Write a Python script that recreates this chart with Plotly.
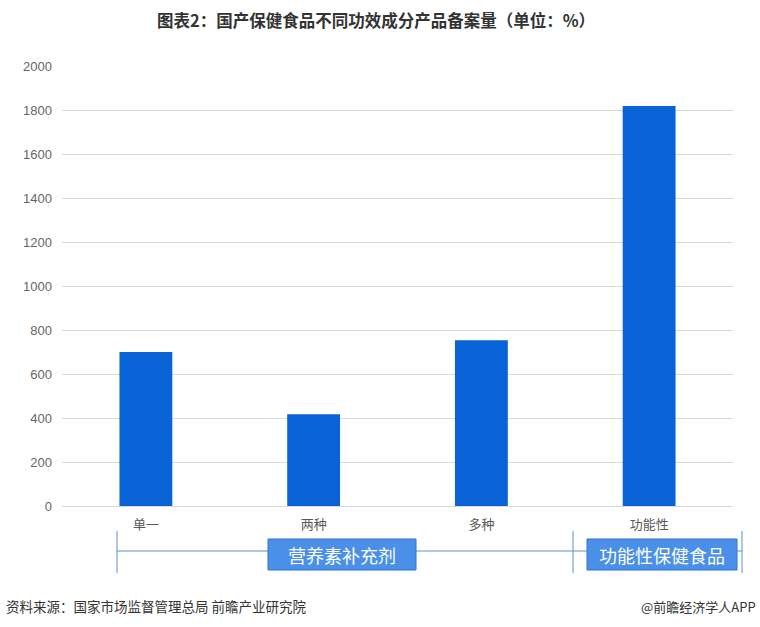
import plotly.graph_objects as go

categories = ["单一", "两种", "多种", "功能性"]
values = [700, 417, 753, 1818]
group_labels = ["营养素补充剂", "功能性保健食品"]
title_text = "图表2：国产保健食品不同功效成分产品备案量（单位：%）"
source_text = "资料来源：国家市场监督管理总局 前瞻产业研究院"
brand_text = "@前瞻经济学人APP"

W, H = 760, 627
L, R, T, B = 62, 27, 66, 121
PW, PH = W - L - R, H - T - B

def px(x):
    return (x - L) / PW

def py(y):
    return (H - B - y) / PH

FONT = "Noto Sans CJK SC"

fig = go.Figure()
fig.add_trace(go.Bar(
    x=categories, y=values,
    marker=dict(color="#0a63d6", line=dict(width=0)),
    width=0.315,
    hoverinfo="skip",
))

shapes = []
line_style = dict(color="#5b8fd0", width=1)
for xv in [117, 573, 742]:
    shapes.append(dict(type="line", xref="paper", yref="paper",
                       x0=px(xv), x1=px(xv), y0=py(531), y1=py(573), line=line_style))
shapes.append(dict(type="line", xref="paper", yref="paper",
                   x0=px(117), x1=px(742), y0=py(551), y1=py(551), line=line_style))
boxes = [(268, 416), (587, 737)]
for (x0, x1) in boxes:
    shapes.append(dict(type="rect", xref="paper", yref="paper",
                       x0=px(x0), x1=px(x1), y0=py(570), y1=py(539),
                       fillcolor="#4a90e8", line=dict(color="#2f72cc", width=1), layer="above"))

annotations = []
for (x0, x1), lab in zip(boxes, group_labels):
    annotations.append(dict(x=px((x0 + x1) / 2), y=py(554.5), xref="paper", yref="paper",
                            text=lab, showarrow=False,
                            font=dict(family=FONT, size=18, color="white"),
                            xanchor="center", yanchor="middle"))
annotations.append(dict(x=px(376), y=py(20), xref="paper", yref="paper",
                        text="<b>" + title_text + "</b>", showarrow=False,
                        font=dict(family=FONT, size=16.5, color="#333333"),
                        xanchor="center", yanchor="middle"))
annotations.append(dict(x=px(4), y=py(606), xref="paper", yref="paper",
                        text=source_text, showarrow=False,
                        font=dict(family=FONT, size=13.5, color="#333333"),
                        xanchor="left", yanchor="middle"))
annotations.append(dict(x=px(758), y=py(606), xref="paper", yref="paper",
                        text=brand_text, showarrow=False,
                        font=dict(family=FONT, size=13, color="#333333"),
                        xanchor="right", yanchor="middle"))

fig.update_layout(
    width=W, height=H,
    margin=dict(l=L, r=R, t=T, b=B, autoexpand=False),
    paper_bgcolor="white", plot_bgcolor="white",
    showlegend=False,
    shapes=shapes,
    annotations=annotations,
    font=dict(family=FONT, size=12, color="#595959"),
    xaxis=dict(showgrid=False, showline=True, linecolor="#d9d9d9", ticks="",
               tickfont=dict(family=FONT, size=13, color="#595959"),
               ticklabelstandoff=6),
    yaxis=dict(range=[0, 2000], dtick=200, showgrid=True, gridcolor="#d9d9d9",
               zeroline=False, showline=False, ticks="",
               tickfont=dict(family="Liberation Sans", size=13, color="#666666"),
               ticklabelstandoff=9),
)

fig.write_html("out.html", config={"displayModeBar": False},
               post_script="document.body.style.margin='0';document.body.style.overflow='hidden';")
